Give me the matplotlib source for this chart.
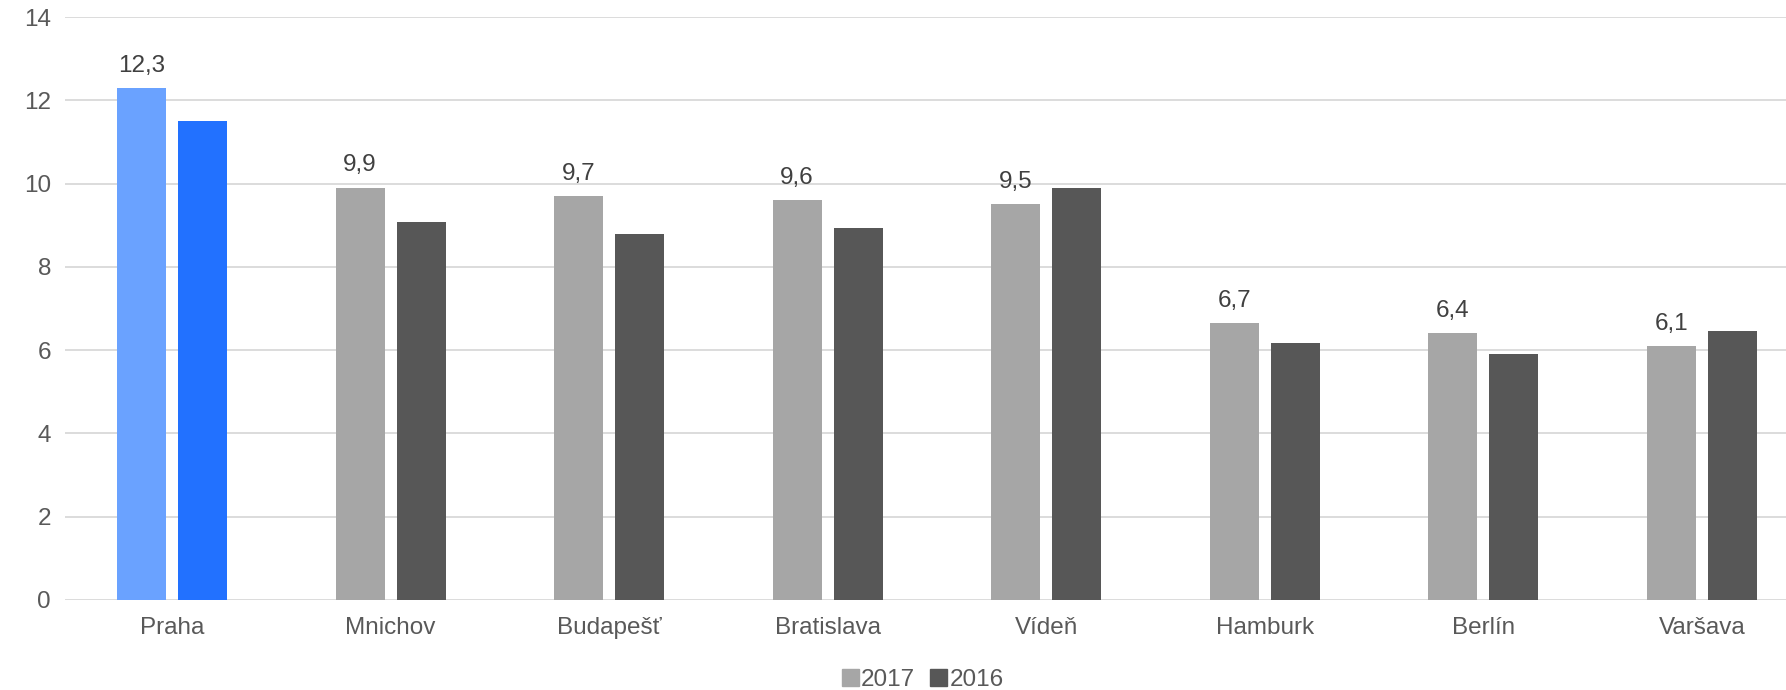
import matplotlib
matplotlib.use("Agg")
import matplotlib.pyplot as plt
import numpy as np
from matplotlib.patches import Patch

plt.rcParams['font.family'] = ['Liberation Sans', 'DejaVu Sans']

categories = ["Praha", "Mnichov", "Budapešť", "Bratislava", "Vídeň", "Hamburk", "Berlín", "Varšava"]
values_2017 = [12.3, 9.9, 9.7, 9.6, 9.5, 6.65, 6.4, 6.1]
labels_2017 = ["12,3", "9,9", "9,7", "9,6", "9,5", "6,7", "6,4", "6,1"]
values_2016 = [11.5, 9.08, 8.78, 8.94, 9.9, 6.18, 5.91, 6.45]
series_names = ["2017", "2016"]

c17 = ["#6aa2ff"] + ["#a6a6a6"] * 7
c16 = ["#2271ff"] + ["#575757"] * 7

FS = 17.5

fig = plt.figure(figsize=(17.86, 6.9), dpi=100)
ax = fig.add_axes([65/1786, 1 - 600/690, 1 - 65/1786, (600 - 17)/690])

x = np.arange(len(categories))
w = 0.224
off = 0.14
ax.bar(x - off, values_2017, w, color=c17, zorder=3)
ax.bar(x + off, values_2016, w, color=c16, zorder=3)

for xi, v, lab in zip(x - off, values_2017, labels_2017):
    ax.text(xi, v + 0.27, lab, ha='center', va='bottom', fontsize=FS, color='#404040')

ax.set_ylim(0, 14)
ax.set_yticks(range(0, 15, 2))
ax.set_xlim(-0.49, 7.385)
ax.set_xticks(x)
ax.set_xticklabels(categories)
ax.tick_params(axis='both', length=0, labelsize=FS, colors='#595959')
ax.tick_params(axis='y', pad=10)
ax.tick_params(axis='x', pad=12)
ax.yaxis.grid(True, color='#d9d9d9', linewidth=1.3, zorder=0)
ax.set_axisbelow(True)
for s in ax.spines.values():
    s.set_visible(False)

handles = [Patch(color='#a6a6a6'), Patch(color='#575757')]
fig.legend(handles, series_names, loc='center', bbox_to_anchor=(810/1568, 1 - 680/690),
           ncol=2, frameon=False, fontsize=FS, handlelength=0.7, handleheight=0.7,
           handletextpad=0.1, columnspacing=0.6, labelcolor='#595959')

fig.savefig("out.png", dpi=100)
